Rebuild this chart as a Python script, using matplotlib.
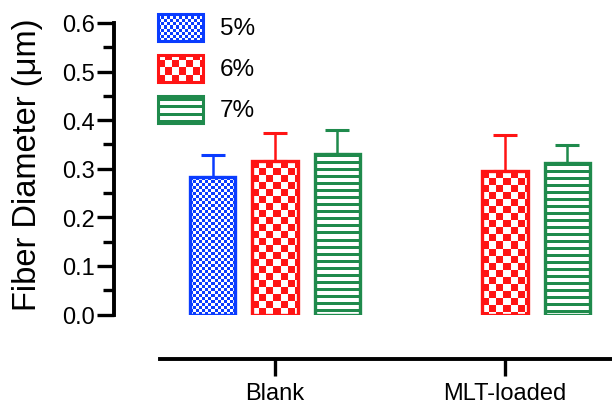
import matplotlib
matplotlib.use("Agg")
import matplotlib.pyplot as plt
import numpy as np
from matplotlib.patches import Rectangle
from matplotlib.ticker import MultipleLocator, FormatStrFormatter

plt.rcParams["font.family"] = ["Liberation Sans", "DejaVu Sans"]

# Mean fiber diameter (um) and SD for each polymer concentration
groups = ["Blank", "MLT-loaded"]
series = ["5%", "6%", "7%"]
means = {
  "5%": [0.284, np.nan],
  "6%": [0.316, 0.295],
  "7%": [0.330, 0.312],
}
sds = {
  "5%": [0.045, np.nan],
  "6%": [0.058, 0.074],
  "7%": [0.049, 0.036],
}

colors = {"5%": "#0a3cff", "6%": "#ff1414", "7%": "#1f8a4c"}
patterns = {"5%": ("checker", 3), "6%": ("checker", 7), "7%": ("stripes", 7)}


def pattern_image(w_px, h_px, kind, cell, color):
  # White/colour texture built pixel by pixel so every bar gets the same scale
  rgb = np.array(matplotlib.colors.to_rgb(color))
  jj, ii = np.meshgrid(np.arange(w_px), np.arange(h_px))
  if kind == "checker":
    mask = ((ii // cell) + (jj // cell)) % 2 == 0
  else:
    mask = (ii % cell) < 3
  img = np.ones((h_px, w_px, 3))
  img[mask] = rgb
  return img


def fill_patch(ax, patch, kind, cell, color):
  x0, y0 = patch.get_x(), patch.get_y()
  x1, y1 = x0 + patch.get_width(), y0 + patch.get_height()
  (px0, py0), (px1, py1) = ax.transData.transform([(x0, y0), (x1, y1)])
  w_px = max(int(round(abs(px1 - px0))), 1)
  h_px = max(int(round(abs(py1 - py0))), 1)
  img = pattern_image(w_px, h_px, kind, cell, color)
  im = ax.imshow(img, extent=(x0, x1, min(y0, y1), max(y0, y1)),
                 origin="upper", interpolation="nearest", aspect="auto",
                 zorder=patch.get_zorder() - 0.1)
  im.set_clip_path(patch)


fig = plt.figure(figsize=(6.12, 4.06), dpi=100)
W, H = 612, 406
ax = fig.add_axes([114 / W, (H - 315.5) / H, (W - 114) / W, (315.5 - 24) / H])
ax.set_xlim(-0.7, 1.465)
ax.set_ylim(0, 0.6)
ax.set_autoscale_on(False)

x = np.arange(len(groups))
offset = 0.27
width = 0.196

for k, name in enumerate(series):
  xs = x + (k - 1) * offset
  vals = np.array(means[name])
  errs = np.array(sds[name])
  ok = ~np.isnan(vals)
  bars = ax.bar(xs[ok], vals[ok], width=width, facecolor="none",
                edgecolor=colors[name], linewidth=2.4, zorder=3)
  ax.errorbar(xs[ok], vals[ok], yerr=[np.zeros(ok.sum()), errs[ok]],
              fmt="none", ecolor=colors[name], elinewidth=1.8,
              capsize=8.5, capthick=2.2, zorder=2)
  kind, cell = patterns[name]
  for b in bars:
    fill_patch(ax, b, kind, cell, colors[name])

ax.set_xlim(-0.7, 1.465)
ax.set_ylim(0, 0.6)

# Axis styling
for side in ["top", "right"]:
  ax.spines[side].set_visible(False)
ax.spines["left"].set_linewidth(2.8)
ax.spines["bottom"].set_linewidth(2.8)
ax.spines["bottom"].set_position(("outward", 32))
ax.spines["bottom"].set_bounds(-0.5, 1.465)

ax.set_xticks(x)
ax.set_xticklabels(groups)
ax.yaxis.set_major_locator(MultipleLocator(0.1))
ax.yaxis.set_minor_locator(MultipleLocator(0.05))
ax.yaxis.set_major_formatter(FormatStrFormatter("%.1f"))
ax.tick_params(axis="y", which="major", length=12, width=2.4, labelsize=17, pad=1.5)
ax.tick_params(axis="y", which="minor", length=8, width=2.4)
ax.tick_params(axis="x", which="major", length=12.5, width=2.4, labelsize=17, pad=4)
ax.set_ylabel("Fiber Diameter (\u03bcm)", fontsize=23.5)
ax.yaxis.set_label_coords(-0.142, 0.516)

# Legend swatches in figure pixel space
lax = fig.add_axes([0, 0, 1, 1], zorder=5)
lax.set_xlim(0, W)
lax.set_ylim(H, 0)
lax.set_autoscale_on(False)
lax.axis("off")
lax.patch.set_alpha(0)
swatch_tops = [15, 56, 97]
for name, top in zip(series, swatch_tops):
  rect = Rectangle((157.5, top), 45, 26.5, facecolor="none",
                   edgecolor=colors[name], linewidth=2.2, zorder=3)
  lax.add_patch(rect)
  kind, cell = patterns[name]
  fill_patch(lax, rect, kind, cell, colors[name])
  lax.text(220, top + 14, name, fontsize=17.5, va="center", ha="left")

fig.savefig("out.png", dpi=100)
